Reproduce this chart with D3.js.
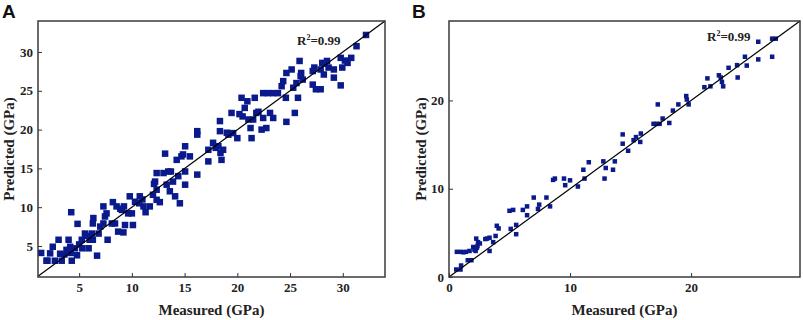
<!DOCTYPE html>
<html>
<head>
<meta charset="utf-8">
<script src="https://cdn.jsdelivr.net/npm/d3@7"></script>
<style>
  body { margin: 0; background: #fff; }
  .tick text { font-family: "Liberation Serif", "Times New Roman", serif; font-weight: bold; font-size: 13px; fill: #222; }
  .axis-title { font-family: "Liberation Serif", "Times New Roman", serif; font-weight: bold; font-size: 15px; fill: #222; }
  .panel-label { font-family: "Liberation Sans", Arial, sans-serif; font-weight: bold; font-size: 19px; fill: #111; }
  .r2 { font-family: "Liberation Serif", "Times New Roman", serif; font-weight: bold; font-size: 13px; fill: #222; }
</style>
</head>
<body>
<div id="chart"></div>
<script>
const W = 803, H = 320;
const POINT_COLOR = '#0a1a8c';

// panel A data (measured vs predicted, GPa)
const measuredA = [1.4, 1.9, 2.25, 2.5, 2.7, 3.05, 3.2, 3.35, 3.8, 4.0, 4.25, 4.2, 4.3, 4.15, 4.6, 4.85, 4.8, 5.25, 5.55, 5.3,
  5.9, 6.2, 6.35, 6.3, 6.7, 6.85, 7.0, 6.3, 7.3, 7.45, 7.6, 7.7, 7.3, 8.1, 8.2, 8.4, 8.55, 8.7, 9.05, 9.2,
  9.35, 9.25, 9.65, 9.8, 10.1, 10.0, 10.3, 10.75, 10.7, 11.1, 11.3, 11.7, 12.0, 12.2, 12.35, 12.35, 12.65, 12.35, 13.0, 13.15,
  13.3, 13.45, 13.6, 13.9, 14.1, 14.25, 14.55, 14.7, 14.85, 15.05, 15.05, 15.05, 15.5, 16.2, 16.2, 16.2, 17.25, 17.25, 17.7, 17.95,
  18.2, 18.35, 18.4, 18.5, 18.65, 18.35, 19.15, 19.45, 19.6, 20.0, 20.4, 20.5, 20.7, 20.95, 21.05, 21.25, 21.35, 21.5, 21.65, 21.8,
  22.3, 22.45, 22.45, 22.75, 23.1, 23.4, 22.9, 23.4, 23.85, 24.2, 24.35, 24.6, 24.65, 24.65, 25.15, 25.3, 25.45, 25.6, 25.75, 25.9,
  26.05, 26.2, 27.15, 27.15, 27.3, 27.45, 27.9, 27.9, 28.05, 28.2, 28.5, 28.65, 29.15, 29.15, 29.8, 29.8, 29.95, 30.45, 30.8, 31.3,
  32.2, 2.0, 3.6, 5.0, 5.7, 6.0, 8.9, 11.0, 12.1, 13.7, 14.4, 19.0, 20.2, 22.0, 26.0, 28.3, 30.2];
const predictedA = [4.1, 3.1, 4.05, 4.9, 3.1, 5.8, 4.0, 3.1, 4.5, 5.8, 9.35, 4.1, 3.1, 4.9, 4.7, 7.85, 3.8, 5.8, 6.6, 4.7,
  4.7, 6.6, 8.6, 7.9, 3.75, 6.6, 7.5, 5.8, 10.1, 8.8, 9.2, 5.8, 7.9, 7.9, 10.65, 7.9, 10.1, 6.85, 9.65, 6.75,
  7.7, 10.1, 9.2, 11.4, 7.7, 9.2, 10.7, 11.4, 10.5, 10.1, 9.35, 10.1, 11.6, 13.3, 14.4, 12.25, 10.65, 10.95, 14.4, 16.9,
  12.9, 14.6, 12.05, 13.3, 11.4, 16.1, 10.5, 16.55, 16.8, 17.85, 12.9, 14.6, 16.55, 14.2, 19.8, 19.35, 17.4, 15.9, 18.3, 17.65,
  17.85, 19.8, 17.0, 16.1, 17.4, 21.1, 19.35, 22.15, 19.55, 18.9, 24.1, 21.7, 22.8, 23.65, 21.3, 20.2, 18.9, 21.3, 24.1, 22.15,
  20.0, 21.5, 24.7, 20.2, 22.15, 21.5, 24.7, 24.7, 24.7, 25.6, 26.25, 24.1, 21.0, 27.3, 27.75, 25.4, 22.15, 26.0, 24.1, 28.85,
  27.3, 26.45, 27.55, 25.8, 28.0, 25.2, 25.2, 27.75, 28.6, 27.1, 28.85, 28.0, 26.7, 27.75, 29.25, 25.7, 28.0, 28.6, 29.25, 30.75,
  32.2, 3.1, 3.9, 5.2, 6.3, 5.8, 9.8, 11.0, 13.0, 14.6, 14.0, 19.6, 22.0, 22.3, 26.9, 28.5, 28.9];

// panel B data (measured vs predicted, GPa)
const measuredB = [0.6, 0.95, 1.0, 0.65, 1.0, 1.4, 1.7, 1.55, 1.85, 2.0, 2.2, 2.25, 2.35, 2.4, 2.55, 3.15, 3.35, 3.35, 3.65, 3.85,
  3.95, 4.1, 5.0, 5.3, 5.1, 5.55, 5.55, 6.1, 6.45, 6.45, 7.0, 7.35, 7.45, 8.05, 8.35, 8.6, 8.75, 9.5, 9.6, 10.0,
  10.65, 11.1, 11.2, 11.55, 12.75, 12.85, 12.95, 13.55, 13.7, 14.35, 14.35, 14.8, 15.25, 15.45, 15.8, 15.85, 16.9, 17.15, 17.25, 17.4,
  17.65, 18.2, 18.5, 18.95, 19.6, 19.65, 19.8, 21.1, 21.35, 21.6, 22.3, 22.45, 22.55, 22.65, 23.1, 23.8, 23.85, 24.45, 24.6, 25.55,
  25.55, 26.7, 26.7, 27.0, 2.1, 2.3, 1.2, 3.0];
const predictedB = [0.85, 0.85, 1.3, 2.85, 2.85, 2.85, 2.95, 1.9, 1.9, 3.4, 2.95, 4.35, 3.5, 3.95, 3.8, 4.35, 4.45, 2.95, 3.95, 4.65,
  5.8, 5.5, 7.5, 7.6, 5.45, 5.9, 4.85, 7.6, 8.0, 7.0, 9.0, 7.7, 8.2, 9.0, 8.0, 11.0, 11.15, 11.15, 10.4, 10.95,
  10.25, 12.15, 11.15, 13.0, 13.1, 11.15, 12.35, 12.15, 13.1, 16.15, 15.1, 14.3, 15.5, 15.85, 15.3, 16.25, 17.35, 17.35, 19.55, 17.35,
  17.95, 17.45, 18.85, 19.55, 20.5, 20.1, 19.55, 21.5, 22.5, 21.6, 22.85, 22.6, 22.1, 21.6, 23.7, 24.0, 22.6, 24.95, 23.95, 26.65,
  24.65, 27.0, 24.95, 27.0, 3.1, 3.3, 2.8, 4.3];

const ticksA = [5, 10, 15, 20, 25, 30];
const ticksB = [0, 10, 20];

const svg = d3.select('#chart').append('svg')
  .attr('width', W).attr('height', H);

function DrawPanel(opts) {
  const { left, right, top, bottom, xDomain, yDomain, ticks, mx, py, size, label, labelX, r2X, r2Y, yTitleX } = opts;
  const x = d3.scaleLinear().domain(xDomain).range([left, right]);
  const y = d3.scaleLinear().domain(yDomain).range([bottom, top]);

  svg.append('g')
    .attr('transform', 'translate(0,' + bottom + ')')
    .call(d3.axisBottom(x).tickValues(ticks).tickSizeInner(-4).tickSizeOuter(0).tickPadding(6))
    .call(g => g.select('.domain').remove())
    .call(g => g.selectAll('.tick line').attr('stroke', '#333'));
  svg.append('g')
    .attr('transform', 'translate(' + left + ',0)')
    .call(d3.axisLeft(y).tickValues(ticks).tickSizeInner(-4).tickSizeOuter(0).tickPadding(5))
    .call(g => g.select('.domain').remove())
    .call(g => g.selectAll('.tick line').attr('stroke', '#333'));

  // points
  svg.append('g').selectAll('rect')
    .data(mx.map((d, i) => ({ x: d, y: py[i] })))
    .join('rect')
    .attr('x', d => x(d.x) - size / 2)
    .attr('y', d => y(d.y) - size / 2)
    .attr('width', size).attr('height', size)
    .attr('fill', POINT_COLOR);

  // 1:1 line
  const lo = Math.max(xDomain[0], yDomain[0]), hi = Math.min(xDomain[1], yDomain[1]);
  svg.append('line')
    .attr('x1', x(lo)).attr('y1', y(lo))
    .attr('x2', x(hi)).attr('y2', y(hi))
    .attr('stroke', '#000').attr('stroke-width', 1.2);

  // frame
  svg.append('rect')
    .attr('x', left).attr('y', top)
    .attr('width', right - left).attr('height', bottom - top)
    .attr('fill', 'none').attr('stroke', '#3a3a3a').attr('stroke-width', 1.5);

  const r2 = svg.append('text').attr('class', 'r2').attr('x', r2X).attr('y', r2Y);
  r2.append('tspan').text('R');
  r2.append('tspan').attr('font-size', '8px').attr('dy', -5).text('2');
  r2.append('tspan').attr('dy', 5).text('=0.99');

  svg.append('text').attr('class', 'axis-title')
    .attr('x', (left + right) / 2).attr('y', 315)
    .attr('text-anchor', 'middle').text('Measured (GPa)');
  svg.append('text').attr('class', 'axis-title')
    .attr('transform', 'translate(' + yTitleX + ',' + ((top + bottom) / 2) + ') rotate(-90)')
    .attr('text-anchor', 'middle').text('Predicted (GPa)');

  svg.append('text').attr('class', 'panel-label')
    .attr('x', labelX).attr('y', 18).text(label);
}

DrawPanel({
  left: 38, right: 385, top: 21, bottom: 277,
  xDomain: [1.1, 34], yDomain: [1.0, 34], ticks: ticksA,
  mx: measuredA, py: predictedA, size: 6.5,
  label: 'A', labelX: 2, r2X: 297, r2Y: 45, yTitleX: 14
});
DrawPanel({
  left: 449, right: 800, top: 21, bottom: 277,
  xDomain: [0, 29], yDomain: [0, 29], ticks: ticksB,
  mx: measuredB, py: predictedB, size: 4.5,
  label: 'B', labelX: 412, r2X: 707, r2Y: 41, yTitleX: 426
});
</script>
</body>
</html>
